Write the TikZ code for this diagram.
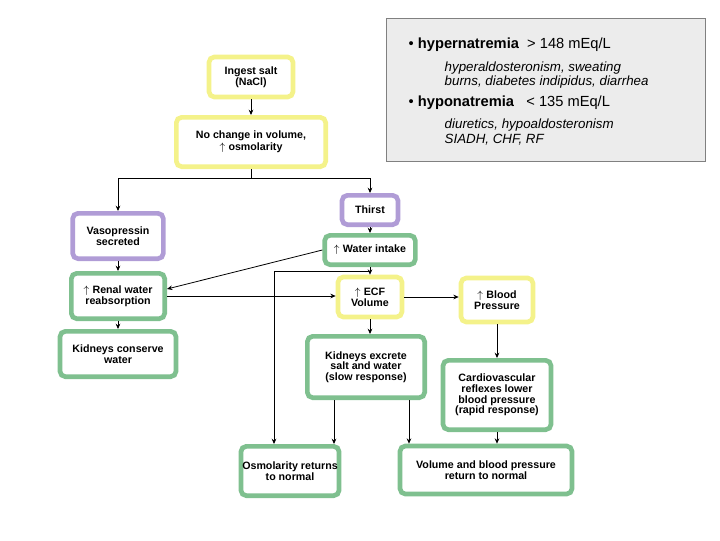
\documentclass[tikz,border=0pt]{standalone}
\usepackage{fontspec}
\setmainfont{Liberation Sans}
\usepackage{xcolor}
\definecolor{boxgreen}{HTML}{7FC08F}
\definecolor{boxpurple}{HTML}{B09CD6}
\definecolor{boxyellow}{HTML}{F4F28A}
\usetikzlibrary{arrows.meta}

\tikzset{
  box/.style={rounded corners=4pt, line width=3.5pt, fill=white, align=center,
    font=\fontsize{8}{8}\selectfont\bfseries, inner sep=1pt},
  gbox/.style={box, draw=boxgreen},
  pbox/.style={box, draw=boxpurple},
  ybox/.style={box, draw=boxyellow},
  arr/.style={-{Stealth[length=4pt,width=3.5pt]}, semithick}
}
\newcommand{\up}{{\fontsize{8}{8}\selectfont$\uparrow$}\hspace{2.5pt}}

\begin{document}
\begin{tikzpicture}[x=0.75pt, y=-0.75pt]
  \useasboundingbox (0,0) rectangle (720,540);

  % Info box
  \draw[gray, fill=gray!15] (386,18) rectangle (705,161);
  \node[anchor=west, font=\fontsize{11}{13}\selectfont] (hyper) at (404,45) {\textbullet\ \textbf{hypernatremia}\ \ > 148 mEq/L};
  \node[anchor=west, align=left, font=\itshape\fontsize{10}{11}\selectfont] (hypercause) at (440,75) {hyperaldosteronism, sweating\\burns, diabetes indipidus, diarrhea};
  \node[anchor=west, font=\fontsize{11}{13}\selectfont] (hypo) at (404,103) {\textbullet\ \textbf{hyponatremia}\ \ \ < 135 mEq/L};
  \node[anchor=west, align=left, font=\itshape\fontsize{10}{11}\selectfont] (hypocause) at (440,132) {diuretics, hypoaldosteronism\\SIADH, CHF, RF};

  % Boxes
  \node[ybox, minimum width=63pt, minimum height=30pt] (salt) at (251,77) {Ingest salt\\(NaCl)};
  \node[ybox, minimum width=112pt, minimum height=37pt] (nochange) at (251,142) {No change in volume,\\[1pt]\up osmolarity};
  \node[pbox, minimum width=68pt, minimum height=34pt] (vaso) at (118,236) {Vasopressin\\secreted};
  \node[pbox, minimum width=42pt, minimum height=22pt] (thirst) at (370,210) {Thirst};
  \node[gbox, minimum width=68pt, minimum height=22pt] (water) at (370,250) {\up Water intake};
  \node[gbox, minimum width=70pt, minimum height=34pt] (renal) at (118,296) {\up Renal water\\reabsorption};
  \node[ybox, minimum width=48pt, minimum height=30pt] (ecf) at (370,297) {\up ECF\\Volume};
  \node[ybox, minimum width=54pt, minimum height=33pt] (bp) at (497,300) {\up Blood\\Pressure};
  \node[gbox, minimum width=87pt, minimum height=34pt] (kidc) at (118,354) {Kidneys conserve\\water};
  \node[gbox, minimum width=88pt, minimum height=46pt] (kex) at (366,367) {Kidneys excrete\\salt and water\\(slow response)};
  \node[gbox, minimum width=81pt, minimum height=52pt] (cardio) at (497,395) {Cardiovascular\\reflexes lower\\blood pressure\\(rapid response)};
  \node[gbox, minimum width=72pt, minimum height=37pt] (osmo) at (290,471) {Osmolarity returns\\to normal};
  \node[gbox, minimum width=129pt, minimum height=36pt] (vol) at (486,470) {Volume and blood pressure\\return to normal};

  % Connectors
  \coordinate (split) at (251,178);
  \coordinate (tap) at (370,271);
  \draw[arr] (salt) -- (nochange);
  \draw[semithick] (nochange) -- (split);
  \draw[arr] (split) -| (vaso);
  \draw[arr] (split) -| (thirst);
  \draw[arr] (thirst) -- (water);
  \draw[arr] (vaso) -- (renal);
  \draw[arr] (water.west) -- (renal.north east |- 0,289);
  \draw[arr] (water) -- (ecf);
  \draw[arr] (tap) -| (osmo.north -| 274,0);
  \draw[arr] (renal.east) -- (renal.east -| ecf.west);
  \draw[arr] (renal) -- (kidc);
  \draw[arr] (ecf.east) -- (ecf.east -| bp.west);
  \draw[arr] (ecf) -- (kex.north -| ecf);
  \draw[arr] (bp) -- (cardio);
  \draw[arr] (kex.south -| 334,0) -- (osmo.north -| 334,0);
  \draw[arr] (kex.south -| 409,0) -- (vol.north -| 409,0);
  \draw[arr] (cardio) -- (vol.north -| cardio);
\end{tikzpicture}
\end{document}
